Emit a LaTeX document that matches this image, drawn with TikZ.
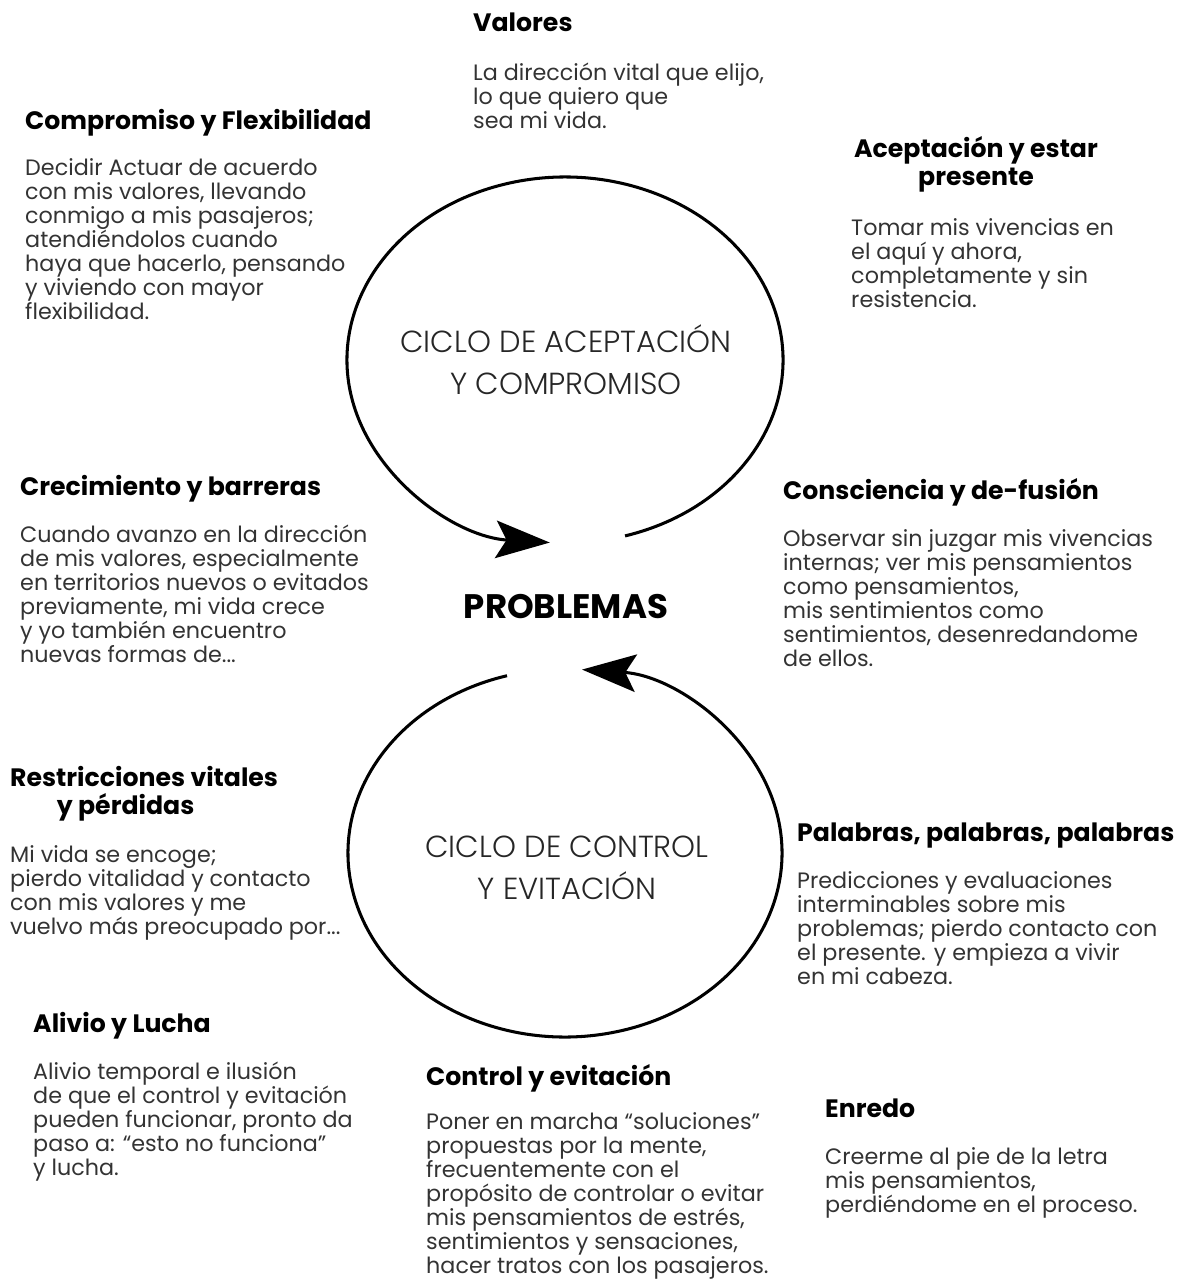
\documentclass[tikz,border=0pt]{standalone}
\usepackage{fontspec}
\setmainfont{Poppins}
\newfontfamily\lightfont{Poppins Light}
\usetikzlibrary{arrows.meta}
\tikzset{
  headtext/.style={font={\fontsize{21.5}{23.8}\selectfont\bfseries}, text=black, inner sep=0pt, align=left, anchor=base west},
  bodytext/.style={font={\fontsize{19}{20.4}\selectfont}, text=black!80, inner sep=0pt, align=left, anchor=base west},
  cycletext/.style={font={\lightfont\fontsize{26}{35.7}\selectfont}, text=black!85, inner sep=0pt, align=center, anchor=base},
  hubtext/.style={font={\fontsize{29}{30}\selectfont\bfseries}, text=black, inner sep=0pt, anchor=base},
  cyclearrow/.style={line width=2.6pt, draw=black, -{Stealth[length=46pt, width=32pt, inset=9pt]}},
}

\begin{document}
\begin{tikzpicture}[x=0.03cm, y=-0.03cm]
\useasboundingbox (0,0) rectangle (1179,1280);
\coordinate (accept) at (565,360);
\coordinate (control) at (565,853);
\draw[cyclearrow] (accept) ++(74:218 and 183) arc[start angle=74, end angle=-266, x radius=218, y radius=183];
\draw[cyclearrow] (control) ++(-105.5:217 and 184) arc[start angle=-105.5, end angle=-445.5, x radius=217, y radius=184];
\node[cycletext] (accepttxt) at (566,394) {CICLO DE ACEPTACIÓN\\Y COMPROMISO};
\node[cycletext] (controltxt) at (567,899) {CICLO DE CONTROL\\Y EVITACIÓN};
\node[hubtext] (problemas) at (566,618) {PROBLEMAS};
\node[headtext] (valhead) at (473,31) {Valores};
\node[bodytext] (valbody) at (473,128) {La dirección vital que elijo,\\lo que quiero que\\sea mi vida.};
\node[headtext] (comphead) at (25,129) {Compromiso y Flexibilidad};
\node[bodytext] (compbody) at (25,319) {Decidir Actuar de acuerdo\\con mis valores, llevando\\conmigo a mis pasajeros;\\atendiéndolos cuando\\haya que hacerlo, pensando\\y viviendo con mayor\\flexibilidad.};
\node[headtext, align=center, anchor=base] (acephead) at (976,185) {Aceptación y estar\\presente};
\node[bodytext] (acepbody) at (851,307) {Tomar mis vivencias en\\el aquí y ahora,\\completamente y sin\\resistencia.};
\node[headtext] (crechead) at (20,495) {Crecimiento y barreras};
\node[bodytext] (crecbody) at (20,662) {Cuando avanzo en la dirección\\de mis valores, especialmente\\en territorios nuevos o evitados\\previamente, mi vida crece\\y yo también encuentro\\nuevas formas de...};
\node[headtext] (conshead) at (783,499) {Consciencia y de-fusión};
\node[bodytext] (consbody) at (783,666) {Observar sin juzgar mis vivencias\\internas; ver mis pensamientos\\como pensamientos,\\mis sentimientos como\\sentimientos, desenredandome\\de ellos.};
\node[headtext] (resthead) at (10,814) {Restricciones vitales\\\hspace*{1.4cm}y pérdidas};
\node[bodytext] (restbody) at (10,934) {Mi vida se encoge;\\pierdo vitalidad y contacto\\con mis valores y me\\vuelvo más preocupado por...};
\node[headtext] (palhead) at (797,841) {Palabras, palabras, palabras};
\node[bodytext] (palbody) at (797,984) {Predicciones y evaluaciones\\interminables sobre mis\\problemas; pierdo contacto con\\el presente. y empieza a vivir\\en mi cabeza.};
\node[headtext] (alivhead) at (33,1032) {Alivio y Lucha};
\node[bodytext] (alivbody) at (33,1175) {Alivio temporal e ilusión\\de que el control y evitación\\pueden funcionar, pronto da\\paso a: “esto no funciona”\\y lucha.};
\node[headtext] (ctrlhead) at (426,1085) {Control y evitación};
\node[bodytext] (ctrlbody) at (426,1273) {Poner en marcha “soluciones”\\propuestas por la mente,\\frecuentemente con el\\propósito de controlar o evitar\\mis pensamientos de estrés,\\sentimientos y sensaciones,\\hacer tratos con los pasajeros.};
\node[headtext] (enrhead) at (825,1117) {Enredo};
\node[bodytext] (enrbody) at (825,1212) {Creerme al pie de la letra\\mis pensamientos,\\perdiéndome en el proceso.};
\end{tikzpicture}
\end{document}
